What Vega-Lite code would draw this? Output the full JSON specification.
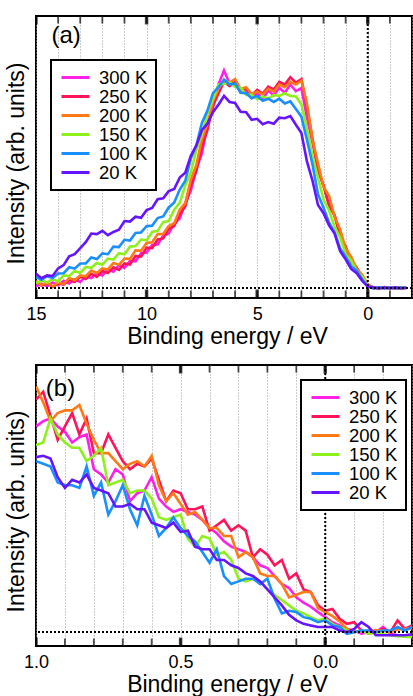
{
"$schema": "https://vega.github.io/schema/vega-lite/v6.json",
"padding": {"left": 4, "top": 14, "right": 0, "bottom": 0},
"bounds": "flush",
"spacing": 67,
"config": {
 "font": "Liberation Sans",
 "view": {"stroke": "black", "strokeWidth": 2},
 "axis": {"labelColor": "black", "titleColor": "black", "titleFontWeight": "normal", "labelFontSize": 18, "titleFontSize": 23, "domain": false, "tickColor": "black", "labelFont": "Liberation Sans", "titleFont": "Liberation Sans"},
 "legend": {"labelFont": "Liberation Sans", "strokeWidth": 2}
},
"resolve": {"scale": {"color": "independent"}, "legend": {"color": "independent"}},
"datasets": {
"ta": [{"v":15},{"v":14},{"v":13},{"v":12},{"v":11},{"v":10},{"v":9},{"v":8},{"v":7},{"v":6},{"v":5},{"v":4},{"v":3},{"v":2},{"v":1},{"v":0},{"v":-1}],
"tam": [{"v":15},{"v":10},{"v":5},{"v":0}],
"tb": [{"v":1},{"v":0.9},{"v":0.8},{"v":0.7},{"v":0.6},{"v":0.5},{"v":0.4},{"v":0.3},{"v":0.2},{"v":0.1},{"v":0},{"v":-0.1},{"v":-0.2}],
"tbm": [{"v":1},{"v":0.5},{"v":0}],
"a": [
{"s":"300 K","x":15,"y":0.006},{"s":"300 K","x":14.75,"y":0.016},{"s":"300 K","x":14.5,"y":0.006},{"s":"300 K","x":14.25,"y":0.02},{"s":"300 K","x":14,"y":0.01},{"s":"300 K","x":13.75,"y":0.026},{"s":"300 K","x":13.5,"y":0.016},{"s":"300 K","x":13.25,"y":0.032},{"s":"300 K","x":13,"y":0.022},{"s":"300 K","x":12.75,"y":0.042},
{"s":"300 K","x":12.5,"y":0.036},{"s":"300 K","x":12.25,"y":0.055},{"s":"300 K","x":12,"y":0.046},{"s":"300 K","x":11.75,"y":0.068},{"s":"300 K","x":11.5,"y":0.06},{"s":"300 K","x":11.25,"y":0.083},{"s":"300 K","x":11,"y":0.074},{"s":"300 K","x":10.75,"y":0.1},{"s":"300 K","x":10.5,"y":0.098},{"s":"300 K","x":10.25,"y":0.128},
{"s":"300 K","x":10,"y":0.13},{"s":"300 K","x":9.75,"y":0.158},{"s":"300 K","x":9.5,"y":0.16},{"s":"300 K","x":9.25,"y":0.192},{"s":"300 K","x":9,"y":0.2},{"s":"300 K","x":8.75,"y":0.238},{"s":"300 K","x":8.5,"y":0.255},{"s":"300 K","x":8.25,"y":0.312},{"s":"300 K","x":8,"y":0.358},{"s":"300 K","x":7.75,"y":0.438},
{"s":"300 K","x":7.5,"y":0.495},{"s":"300 K","x":7.25,"y":0.598},{"s":"300 K","x":7,"y":0.662},{"s":"300 K","x":6.75,"y":0.748},{"s":"300 K","x":6.5,"y":0.8},{"s":"300 K","x":6.25,"y":0.752},{"s":"300 K","x":6,"y":0.758},{"s":"300 K","x":5.75,"y":0.718},{"s":"300 K","x":5.5,"y":0.726},{"s":"300 K","x":5.25,"y":0.698},
{"s":"300 K","x":5,"y":0.716},{"s":"300 K","x":4.75,"y":0.694},{"s":"300 K","x":4.5,"y":0.726},{"s":"300 K","x":4.25,"y":0.708},{"s":"300 K","x":4,"y":0.736},{"s":"300 K","x":3.75,"y":0.718},{"s":"300 K","x":3.5,"y":0.748},{"s":"300 K","x":3.25,"y":0.724},{"s":"300 K","x":3,"y":0.735},{"s":"300 K","x":2.75,"y":0.625},
{"s":"300 K","x":2.5,"y":0.535},{"s":"300 K","x":2.25,"y":0.435},{"s":"300 K","x":2,"y":0.375},{"s":"300 K","x":1.75,"y":0.305},{"s":"300 K","x":1.5,"y":0.265},{"s":"300 K","x":1.25,"y":0.195},{"s":"300 K","x":1,"y":0.145},{"s":"300 K","x":0.75,"y":0.096},{"s":"300 K","x":0.5,"y":0.072},{"s":"300 K","x":0.25,"y":0.036},
{"s":"300 K","x":0,"y":0.01},{"s":"300 K","x":-0.25,"y":-0.002},{"s":"300 K","x":-0.5,"y":0.003},{"s":"300 K","x":-0.75,"y":-0.002},{"s":"300 K","x":-1,"y":0.002},{"s":"300 K","x":-1.25,"y":-0.003},{"s":"300 K","x":-1.5,"y":0.002},{"s":"300 K","x":-1.75,"y":0},

{"s":"250 K","x":15,"y":0.025},{"s":"250 K","x":14.75,"y":0.008},{"s":"250 K","x":14.5,"y":0.018},{"s":"250 K","x":14.25,"y":0.004},{"s":"250 K","x":14,"y":0.016},{"s":"250 K","x":13.75,"y":0.012},{"s":"250 K","x":13.5,"y":0.03},{"s":"250 K","x":13.25,"y":0.022},{"s":"250 K","x":13,"y":0.042},{"s":"250 K","x":12.75,"y":0.033},
{"s":"250 K","x":12.5,"y":0.052},{"s":"250 K","x":12.25,"y":0.041},{"s":"250 K","x":12,"y":0.062},{"s":"250 K","x":11.75,"y":0.055},{"s":"250 K","x":11.5,"y":0.076},{"s":"250 K","x":11.25,"y":0.066},{"s":"250 K","x":11,"y":0.09},{"s":"250 K","x":10.75,"y":0.086},{"s":"250 K","x":10.5,"y":0.118},{"s":"250 K","x":10.25,"y":0.115},
{"s":"250 K","x":10,"y":0.148},{"s":"250 K","x":9.75,"y":0.146},{"s":"250 K","x":9.5,"y":0.178},{"s":"250 K","x":9.25,"y":0.182},{"s":"250 K","x":9,"y":0.218},{"s":"250 K","x":8.75,"y":0.228},{"s":"250 K","x":8.5,"y":0.272},{"s":"250 K","x":8.25,"y":0.3},{"s":"250 K","x":8,"y":0.378},{"s":"250 K","x":7.75,"y":0.43},
{"s":"250 K","x":7.5,"y":0.52},{"s":"250 K","x":7.25,"y":0.58},{"s":"250 K","x":7,"y":0.67},{"s":"250 K","x":6.75,"y":0.715},{"s":"250 K","x":6.5,"y":0.758},{"s":"250 K","x":6.25,"y":0.742},{"s":"250 K","x":6,"y":0.758},{"s":"250 K","x":5.75,"y":0.726},{"s":"250 K","x":5.5,"y":0.734},{"s":"250 K","x":5.25,"y":0.71},
{"s":"250 K","x":5,"y":0.728},{"s":"250 K","x":4.75,"y":0.715},{"s":"250 K","x":4.5,"y":0.74},{"s":"250 K","x":4.25,"y":0.73},{"s":"250 K","x":4,"y":0.758},{"s":"250 K","x":3.75,"y":0.748},{"s":"250 K","x":3.5,"y":0.775},{"s":"250 K","x":3.25,"y":0.755},{"s":"250 K","x":3,"y":0.768},{"s":"250 K","x":2.75,"y":0.665},
{"s":"250 K","x":2.5,"y":0.55},{"s":"250 K","x":2.25,"y":0.432},{"s":"250 K","x":2,"y":0.378},{"s":"250 K","x":1.75,"y":0.302},{"s":"250 K","x":1.5,"y":0.268},{"s":"250 K","x":1.25,"y":0.192},{"s":"250 K","x":1,"y":0.152},{"s":"250 K","x":0.75,"y":0.098},{"s":"250 K","x":0.5,"y":0.075},{"s":"250 K","x":0.25,"y":0.036},
{"s":"250 K","x":0,"y":0.012},{"s":"250 K","x":-0.25,"y":0.002},{"s":"250 K","x":-0.5,"y":-0.003},{"s":"250 K","x":-0.75,"y":0.003},{"s":"250 K","x":-1,"y":-0.002},{"s":"250 K","x":-1.25,"y":0.002},{"s":"250 K","x":-1.5,"y":-0.002},{"s":"250 K","x":-1.75,"y":0.001},

{"s":"200 K","x":15,"y":0.024},{"s":"200 K","x":14.75,"y":0.01},{"s":"200 K","x":14.5,"y":0.02},{"s":"200 K","x":14.25,"y":0.004},{"s":"200 K","x":14,"y":0.02},{"s":"200 K","x":13.75,"y":0.014},{"s":"200 K","x":13.5,"y":0.036},{"s":"200 K","x":13.25,"y":0.028},{"s":"200 K","x":13,"y":0.046},{"s":"200 K","x":12.75,"y":0.043},
{"s":"200 K","x":12.5,"y":0.064},{"s":"200 K","x":12.25,"y":0.055},{"s":"200 K","x":12,"y":0.072},{"s":"200 K","x":11.75,"y":0.068},{"s":"200 K","x":11.5,"y":0.092},{"s":"200 K","x":11.25,"y":0.085},{"s":"200 K","x":11,"y":0.108},{"s":"200 K","x":10.75,"y":0.107},{"s":"200 K","x":10.5,"y":0.138},{"s":"200 K","x":10.25,"y":0.137},
{"s":"200 K","x":10,"y":0.165},{"s":"200 K","x":9.75,"y":0.168},{"s":"200 K","x":9.5,"y":0.198},{"s":"200 K","x":9.25,"y":0.198},{"s":"200 K","x":9,"y":0.228},{"s":"200 K","x":8.75,"y":0.238},{"s":"200 K","x":8.5,"y":0.288},{"s":"200 K","x":8.25,"y":0.312},{"s":"200 K","x":8,"y":0.398},{"s":"200 K","x":7.75,"y":0.452},
{"s":"200 K","x":7.5,"y":0.548},{"s":"200 K","x":7.25,"y":0.602},{"s":"200 K","x":7,"y":0.688},{"s":"200 K","x":6.75,"y":0.732},{"s":"200 K","x":6.5,"y":0.765},{"s":"200 K","x":6.25,"y":0.755},{"s":"200 K","x":6,"y":0.768},{"s":"200 K","x":5.75,"y":0.732},{"s":"200 K","x":5.5,"y":0.738},{"s":"200 K","x":5.25,"y":0.712},
{"s":"200 K","x":5,"y":0.722},{"s":"200 K","x":4.75,"y":0.712},{"s":"200 K","x":4.5,"y":0.732},{"s":"200 K","x":4.25,"y":0.722},{"s":"200 K","x":4,"y":0.748},{"s":"200 K","x":3.75,"y":0.738},{"s":"200 K","x":3.5,"y":0.758},{"s":"200 K","x":3.25,"y":0.748},{"s":"200 K","x":3,"y":0.762},{"s":"200 K","x":2.75,"y":0.678},
{"s":"200 K","x":2.5,"y":0.545},{"s":"200 K","x":2.25,"y":0.458},{"s":"200 K","x":2,"y":0.372},{"s":"200 K","x":1.75,"y":0.338},{"s":"200 K","x":1.5,"y":0.262},{"s":"200 K","x":1.25,"y":0.215},{"s":"200 K","x":1,"y":0.145},{"s":"200 K","x":0.75,"y":0.114},{"s":"200 K","x":0.5,"y":0.07},{"s":"200 K","x":0.25,"y":0.048},
{"s":"200 K","x":0,"y":0.012},{"s":"200 K","x":-0.25,"y":0.001},{"s":"200 K","x":-0.5,"y":-0.002},{"s":"200 K","x":-0.75,"y":0.002},{"s":"200 K","x":-1,"y":0},{"s":"200 K","x":-1.25,"y":-0.002},{"s":"200 K","x":-1.5,"y":0.002},{"s":"200 K","x":-1.75,"y":0},

{"s":"150 K","x":15,"y":0.018},{"s":"150 K","x":14.75,"y":0.028},{"s":"150 K","x":14.5,"y":0.02},{"s":"150 K","x":14.25,"y":0.032},{"s":"150 K","x":14,"y":0.024},{"s":"150 K","x":13.75,"y":0.046},{"s":"150 K","x":13.5,"y":0.044},{"s":"150 K","x":13.25,"y":0.062},{"s":"150 K","x":13,"y":0.055},{"s":"150 K","x":12.75,"y":0.077},
{"s":"150 K","x":12.5,"y":0.074},{"s":"150 K","x":12.25,"y":0.092},{"s":"150 K","x":12,"y":0.085},{"s":"150 K","x":11.75,"y":0.108},{"s":"150 K","x":11.5,"y":0.104},{"s":"150 K","x":11.25,"y":0.128},{"s":"150 K","x":11,"y":0.124},{"s":"150 K","x":10.75,"y":0.152},{"s":"150 K","x":10.5,"y":0.154},{"s":"150 K","x":10.25,"y":0.178},
{"s":"150 K","x":10,"y":0.175},{"s":"150 K","x":9.75,"y":0.206},{"s":"150 K","x":9.5,"y":0.21},{"s":"150 K","x":9.25,"y":0.242},{"s":"150 K","x":9,"y":0.246},{"s":"150 K","x":8.75,"y":0.288},{"s":"150 K","x":8.5,"y":0.314},{"s":"150 K","x":8.25,"y":0.378},{"s":"150 K","x":8,"y":0.424},{"s":"150 K","x":7.75,"y":0.508},
{"s":"150 K","x":7.5,"y":0.565},{"s":"150 K","x":7.25,"y":0.642},{"s":"150 K","x":7,"y":0.695},{"s":"150 K","x":6.75,"y":0.748},{"s":"150 K","x":6.5,"y":0.75},{"s":"150 K","x":6.25,"y":0.756},{"s":"150 K","x":6,"y":0.74},{"s":"150 K","x":5.75,"y":0.736},{"s":"150 K","x":5.5,"y":0.71},{"s":"150 K","x":5.25,"y":0.71},
{"s":"150 K","x":5,"y":0.694},{"s":"150 K","x":4.75,"y":0.704},{"s":"150 K","x":4.5,"y":0.696},{"s":"150 K","x":4.25,"y":0.71},{"s":"150 K","x":4,"y":0.706},{"s":"150 K","x":3.75,"y":0.716},{"s":"150 K","x":3.5,"y":0.706},{"s":"150 K","x":3.25,"y":0.704},{"s":"150 K","x":3,"y":0.675},{"s":"150 K","x":2.75,"y":0.585},
{"s":"150 K","x":2.5,"y":0.485},{"s":"150 K","x":2.25,"y":0.405},{"s":"150 K","x":2,"y":0.325},{"s":"150 K","x":1.75,"y":0.285},{"s":"150 K","x":1.5,"y":0.225},{"s":"150 K","x":1.25,"y":0.185},{"s":"150 K","x":1,"y":0.125},{"s":"150 K","x":0.75,"y":0.1},{"s":"150 K","x":0.5,"y":0.06},{"s":"150 K","x":0.25,"y":0.043},
{"s":"150 K","x":0,"y":0.007},{"s":"150 K","x":-0.25,"y":0.002},{"s":"150 K","x":-0.5,"y":-0.002},{"s":"150 K","x":-0.75,"y":0.002},{"s":"150 K","x":-1,"y":-0.001},{"s":"150 K","x":-1.25,"y":0.002},{"s":"150 K","x":-1.5,"y":-0.002},{"s":"150 K","x":-1.75,"y":0},

{"s":"100 K","x":15,"y":0.04},{"s":"100 K","x":14.75,"y":0.03},{"s":"100 K","x":14.5,"y":0.043},{"s":"100 K","x":14.25,"y":0.036},{"s":"100 K","x":14,"y":0.053},{"s":"100 K","x":13.75,"y":0.054},{"s":"100 K","x":13.5,"y":0.076},{"s":"100 K","x":13.25,"y":0.071},{"s":"100 K","x":13,"y":0.09},{"s":"100 K","x":12.75,"y":0.09},
{"s":"100 K","x":12.5,"y":0.112},{"s":"100 K","x":12.25,"y":0.106},{"s":"100 K","x":12,"y":0.127},{"s":"100 K","x":11.75,"y":0.124},{"s":"100 K","x":11.5,"y":0.152},{"s":"100 K","x":11.25,"y":0.15},{"s":"100 K","x":11,"y":0.177},{"s":"100 K","x":10.75,"y":0.174},{"s":"100 K","x":10.5,"y":0.202},{"s":"100 K","x":10.25,"y":0.204},
{"s":"100 K","x":10,"y":0.227},{"s":"100 K","x":9.75,"y":0.229},{"s":"100 K","x":9.5,"y":0.257},{"s":"100 K","x":9.25,"y":0.263},{"s":"100 K","x":9,"y":0.296},{"s":"100 K","x":8.75,"y":0.314},{"s":"100 K","x":8.5,"y":0.362},{"s":"100 K","x":8.25,"y":0.394},{"s":"100 K","x":8,"y":0.476},{"s":"100 K","x":7.75,"y":0.524},
{"s":"100 K","x":7.5,"y":0.607},{"s":"100 K","x":7.25,"y":0.652},{"s":"100 K","x":7,"y":0.716},{"s":"100 K","x":6.75,"y":0.738},{"s":"100 K","x":6.5,"y":0.766},{"s":"100 K","x":6.25,"y":0.748},{"s":"100 K","x":6,"y":0.752},{"s":"100 K","x":5.75,"y":0.718},{"s":"100 K","x":5.5,"y":0.716},{"s":"100 K","x":5.25,"y":0.698},
{"s":"100 K","x":5,"y":0.706},{"s":"100 K","x":4.75,"y":0.688},{"s":"100 K","x":4.5,"y":0.696},{"s":"100 K","x":4.25,"y":0.684},{"s":"100 K","x":4,"y":0.696},{"s":"100 K","x":3.75,"y":0.678},{"s":"100 K","x":3.5,"y":0.686},{"s":"100 K","x":3.25,"y":0.658},{"s":"100 K","x":3,"y":0.63},{"s":"100 K","x":2.75,"y":0.545},
{"s":"100 K","x":2.5,"y":0.455},{"s":"100 K","x":2.25,"y":0.345},{"s":"100 K","x":2,"y":0.295},{"s":"100 K","x":1.75,"y":0.24},{"s":"100 K","x":1.5,"y":0.205},{"s":"100 K","x":1.25,"y":0.145},{"s":"100 K","x":1,"y":0.115},{"s":"100 K","x":0.75,"y":0.08},{"s":"100 K","x":0.5,"y":0.064},{"s":"100 K","x":0.25,"y":0.031},
{"s":"100 K","x":0,"y":0.006},{"s":"100 K","x":-0.25,"y":-0.002},{"s":"100 K","x":-0.5,"y":0.002},{"s":"100 K","x":-0.75,"y":-0.002},{"s":"100 K","x":-1,"y":0.001},{"s":"100 K","x":-1.25,"y":-0.002},{"s":"100 K","x":-1.5,"y":0.002},{"s":"100 K","x":-1.75,"y":0},

{"s":"20 K","x":15,"y":0.052},{"s":"20 K","x":14.75,"y":0.036},{"s":"20 K","x":14.5,"y":0.046},{"s":"20 K","x":14.25,"y":0.044},{"s":"20 K","x":14,"y":0.072},{"s":"20 K","x":13.75,"y":0.084},{"s":"20 K","x":13.5,"y":0.116},{"s":"20 K","x":13.25,"y":0.124},{"s":"20 K","x":13,"y":0.146},{"s":"20 K","x":12.75,"y":0.168},
{"s":"20 K","x":12.5,"y":0.2},{"s":"20 K","x":12.25,"y":0.198},{"s":"20 K","x":12,"y":0.21},{"s":"20 K","x":11.75,"y":0.194},{"s":"20 K","x":11.5,"y":0.206},{"s":"20 K","x":11.25,"y":0.214},{"s":"20 K","x":11,"y":0.246},{"s":"20 K","x":10.75,"y":0.244},{"s":"20 K","x":10.5,"y":0.262},{"s":"20 K","x":10.25,"y":0.258},
{"s":"20 K","x":10,"y":0.286},{"s":"20 K","x":9.75,"y":0.294},{"s":"20 K","x":9.5,"y":0.326},{"s":"20 K","x":9.25,"y":0.33},{"s":"20 K","x":9,"y":0.356},{"s":"20 K","x":8.75,"y":0.364},{"s":"20 K","x":8.5,"y":0.406},{"s":"20 K","x":8.25,"y":0.424},{"s":"20 K","x":8,"y":0.486},{"s":"20 K","x":7.75,"y":0.524},
{"s":"20 K","x":7.5,"y":0.58},{"s":"20 K","x":7.25,"y":0.604},{"s":"20 K","x":7,"y":0.646},{"s":"20 K","x":6.75,"y":0.674},{"s":"20 K","x":6.5,"y":0.706},{"s":"20 K","x":6.25,"y":0.684},{"s":"20 K","x":6,"y":0.68},{"s":"20 K","x":5.75,"y":0.648},{"s":"20 K","x":5.5,"y":0.646},{"s":"20 K","x":5.25,"y":0.618},
{"s":"20 K","x":5,"y":0.622},{"s":"20 K","x":4.75,"y":0.602},{"s":"20 K","x":4.5,"y":0.61},{"s":"20 K","x":4.25,"y":0.604},{"s":"20 K","x":4,"y":0.626},{"s":"20 K","x":3.75,"y":0.624},{"s":"20 K","x":3.5,"y":0.632},{"s":"20 K","x":3.25,"y":0.6},{"s":"20 K","x":3,"y":0.57},{"s":"20 K","x":2.75,"y":0.465},
{"s":"20 K","x":2.5,"y":0.395},{"s":"20 K","x":2.25,"y":0.305},{"s":"20 K","x":2,"y":0.275},{"s":"20 K","x":1.75,"y":0.23},{"s":"20 K","x":1.5,"y":0.2},{"s":"20 K","x":1.25,"y":0.135},{"s":"20 K","x":1,"y":0.105},{"s":"20 K","x":0.75,"y":0.07},{"s":"20 K","x":0.5,"y":0.054},{"s":"20 K","x":0.25,"y":0.026},
{"s":"20 K","x":0,"y":0.005},{"s":"20 K","x":-0.25,"y":0.002},{"s":"20 K","x":-0.5,"y":-0.002},{"s":"20 K","x":-0.75,"y":0.002},{"s":"20 K","x":-1,"y":-0.001},{"s":"20 K","x":-1.25,"y":0.002},{"s":"20 K","x":-1.5,"y":-0.002},{"s":"20 K","x":-1.75,"y":0.001}
],
"b": [
{"s":"300 K","x":1,"y":0.77},{"s":"300 K","x":0.975,"y":0.79},{"s":"300 K","x":0.95,"y":0.8},{"s":"300 K","x":0.925,"y":0.77},{"s":"300 K","x":0.9,"y":0.75},{"s":"300 K","x":0.875,"y":0.71},{"s":"300 K","x":0.85,"y":0.73},{"s":"300 K","x":0.825,"y":0.74},{"s":"300 K","x":0.8,"y":0.61},{"s":"300 K","x":0.775,"y":0.59},
{"s":"300 K","x":0.75,"y":0.56},{"s":"300 K","x":0.725,"y":0.61},{"s":"300 K","x":0.7,"y":0.59},{"s":"300 K","x":0.675,"y":0.49},{"s":"300 K","x":0.65,"y":0.52},{"s":"300 K","x":0.625,"y":0.53},{"s":"300 K","x":0.6,"y":0.58},{"s":"300 K","x":0.575,"y":0.5},{"s":"300 K","x":0.55,"y":0.47},{"s":"300 K","x":0.525,"y":0.45},
{"s":"300 K","x":0.5,"y":0.46},{"s":"300 K","x":0.475,"y":0.45},{"s":"300 K","x":0.45,"y":0.44},{"s":"300 K","x":0.425,"y":0.42},{"s":"300 K","x":0.4,"y":0.39},{"s":"300 K","x":0.375,"y":0.37},{"s":"300 K","x":0.35,"y":0.34},{"s":"300 K","x":0.325,"y":0.32},{"s":"300 K","x":0.3,"y":0.31},{"s":"300 K","x":0.275,"y":0.3},
{"s":"300 K","x":0.25,"y":0.28},{"s":"300 K","x":0.225,"y":0.25},{"s":"300 K","x":0.2,"y":0.24},{"s":"300 K","x":0.175,"y":0.21},{"s":"300 K","x":0.15,"y":0.18},{"s":"300 K","x":0.125,"y":0.165},{"s":"300 K","x":0.1,"y":0.13},{"s":"300 K","x":0.075,"y":0.11},{"s":"300 K","x":0.05,"y":0.095},{"s":"300 K","x":0.025,"y":0.075},
{"s":"300 K","x":0,"y":0.056},{"s":"300 K","x":-0.025,"y":0.037},{"s":"300 K","x":-0.05,"y":0.025},{"s":"300 K","x":-0.075,"y":0.012},{"s":"300 K","x":-0.1,"y":0.006},{"s":"300 K","x":-0.125,"y":-0.006},{"s":"300 K","x":-0.15,"y":0},{"s":"300 K","x":-0.175,"y":0},{"s":"300 K","x":-0.2,"y":0.019},{"s":"300 K","x":-0.225,"y":-0.006},
{"s":"300 K","x":-0.25,"y":-0.012},{"s":"300 K","x":-0.275,"y":-0.012},{"s":"300 K","x":-0.3,"y":-0.012},

{"s":"250 K","x":1,"y":0.87},{"s":"250 K","x":0.975,"y":0.9},{"s":"250 K","x":0.95,"y":0.81},{"s":"250 K","x":0.925,"y":0.72},{"s":"250 K","x":0.9,"y":0.77},{"s":"250 K","x":0.875,"y":0.82},{"s":"250 K","x":0.85,"y":0.74},{"s":"250 K","x":0.825,"y":0.8},{"s":"250 K","x":0.8,"y":0.67},{"s":"250 K","x":0.775,"y":0.67},
{"s":"250 K","x":0.75,"y":0.74},{"s":"250 K","x":0.725,"y":0.69},{"s":"250 K","x":0.7,"y":0.64},{"s":"250 K","x":0.675,"y":0.61},{"s":"250 K","x":0.65,"y":0.63},{"s":"250 K","x":0.625,"y":0.62},{"s":"250 K","x":0.6,"y":0.65},{"s":"250 K","x":0.575,"y":0.57},{"s":"250 K","x":0.55,"y":0.49},{"s":"250 K","x":0.525,"y":0.53},
{"s":"250 K","x":0.5,"y":0.52},{"s":"250 K","x":0.475,"y":0.46},{"s":"250 K","x":0.45,"y":0.46},{"s":"250 K","x":0.425,"y":0.47},{"s":"250 K","x":0.4,"y":0.38},{"s":"250 K","x":0.375,"y":0.4},{"s":"250 K","x":0.35,"y":0.42},{"s":"250 K","x":0.325,"y":0.38},{"s":"250 K","x":0.3,"y":0.4},{"s":"250 K","x":0.275,"y":0.38},
{"s":"250 K","x":0.25,"y":0.28},{"s":"250 K","x":0.225,"y":0.31},{"s":"250 K","x":0.2,"y":0.29},{"s":"250 K","x":0.175,"y":0.25},{"s":"250 K","x":0.15,"y":0.27},{"s":"250 K","x":0.125,"y":0.2},{"s":"250 K","x":0.1,"y":0.22},{"s":"250 K","x":0.075,"y":0.16},{"s":"250 K","x":0.05,"y":0.15},{"s":"250 K","x":0.025,"y":0.1},
{"s":"250 K","x":0,"y":0.08},{"s":"250 K","x":-0.025,"y":0.087},{"s":"250 K","x":-0.05,"y":0.05},{"s":"250 K","x":-0.075,"y":0.031},{"s":"250 K","x":-0.1,"y":0.037},{"s":"250 K","x":-0.125,"y":0.006},{"s":"250 K","x":-0.15,"y":-0.006},{"s":"250 K","x":-0.175,"y":0},{"s":"250 K","x":-0.2,"y":0.012},{"s":"250 K","x":-0.225,"y":0},
{"s":"250 K","x":-0.25,"y":0.044},{"s":"250 K","x":-0.275,"y":0.012},{"s":"250 K","x":-0.3,"y":0.025},

{"s":"200 K","x":1,"y":0.92},{"s":"200 K","x":0.975,"y":0.86},{"s":"200 K","x":0.95,"y":0.79},{"s":"200 K","x":0.925,"y":0.82},{"s":"200 K","x":0.9,"y":0.83},{"s":"200 K","x":0.875,"y":0.83},{"s":"200 K","x":0.85,"y":0.85},{"s":"200 K","x":0.825,"y":0.78},{"s":"200 K","x":0.8,"y":0.72},{"s":"200 K","x":0.775,"y":0.67},
{"s":"200 K","x":0.75,"y":0.67},{"s":"200 K","x":0.725,"y":0.64},{"s":"200 K","x":0.7,"y":0.61},{"s":"200 K","x":0.675,"y":0.63},{"s":"200 K","x":0.65,"y":0.64},{"s":"200 K","x":0.625,"y":0.62},{"s":"200 K","x":0.6,"y":0.66},{"s":"200 K","x":0.575,"y":0.55},{"s":"200 K","x":0.55,"y":0.49},{"s":"200 K","x":0.525,"y":0.52},
{"s":"200 K","x":0.5,"y":0.48},{"s":"200 K","x":0.475,"y":0.44},{"s":"200 K","x":0.45,"y":0.45},{"s":"200 K","x":0.425,"y":0.42},{"s":"200 K","x":0.4,"y":0.39},{"s":"200 K","x":0.375,"y":0.39},{"s":"200 K","x":0.35,"y":0.36},{"s":"200 K","x":0.325,"y":0.36},{"s":"200 K","x":0.3,"y":0.28},{"s":"200 K","x":0.275,"y":0.3},
{"s":"200 K","x":0.25,"y":0.28},{"s":"200 K","x":0.225,"y":0.22},{"s":"200 K","x":0.2,"y":0.21},{"s":"200 K","x":0.175,"y":0.21},{"s":"200 K","x":0.15,"y":0.18},{"s":"200 K","x":0.125,"y":0.13},{"s":"200 K","x":0.1,"y":0.14},{"s":"200 K","x":0.075,"y":0.15},{"s":"200 K","x":0.05,"y":0.15},{"s":"200 K","x":0.025,"y":0.09},
{"s":"200 K","x":0,"y":0.075},{"s":"200 K","x":-0.025,"y":0.06},{"s":"200 K","x":-0.05,"y":0.04},{"s":"200 K","x":-0.075,"y":0.012},{"s":"200 K","x":-0.1,"y":0},{"s":"200 K","x":-0.125,"y":0.005},{"s":"200 K","x":-0.15,"y":0},{"s":"200 K","x":-0.175,"y":0.008},{"s":"200 K","x":-0.2,"y":0.005},{"s":"200 K","x":-0.225,"y":0},
{"s":"200 K","x":-0.25,"y":0.01},{"s":"200 K","x":-0.275,"y":0.012},{"s":"200 K","x":-0.3,"y":0.015},

{"s":"150 K","x":1,"y":0.7},{"s":"150 K","x":0.975,"y":0.71},{"s":"150 K","x":0.95,"y":0.8},{"s":"150 K","x":0.925,"y":0.74},{"s":"150 K","x":0.9,"y":0.71},{"s":"150 K","x":0.875,"y":0.69},{"s":"150 K","x":0.85,"y":0.69},{"s":"150 K","x":0.825,"y":0.64},{"s":"150 K","x":0.8,"y":0.66},{"s":"150 K","x":0.775,"y":0.69},
{"s":"150 K","x":0.75,"y":0.55},{"s":"150 K","x":0.725,"y":0.56},{"s":"150 K","x":0.7,"y":0.57},{"s":"150 K","x":0.675,"y":0.52},{"s":"150 K","x":0.65,"y":0.53},{"s":"150 K","x":0.625,"y":0.53},{"s":"150 K","x":0.6,"y":0.5},{"s":"150 K","x":0.575,"y":0.43},{"s":"150 K","x":0.55,"y":0.42},{"s":"150 K","x":0.525,"y":0.43},
{"s":"150 K","x":0.5,"y":0.44},{"s":"150 K","x":0.475,"y":0.35},{"s":"150 K","x":0.45,"y":0.32},{"s":"150 K","x":0.425,"y":0.36},{"s":"150 K","x":0.4,"y":0.35},{"s":"150 K","x":0.375,"y":0.29},{"s":"150 K","x":0.35,"y":0.3},{"s":"150 K","x":0.325,"y":0.27},{"s":"150 K","x":0.3,"y":0.2},{"s":"150 K","x":0.275,"y":0.19},
{"s":"150 K","x":0.25,"y":0.2},{"s":"150 K","x":0.225,"y":0.19},{"s":"150 K","x":0.2,"y":0.16},{"s":"150 K","x":0.175,"y":0.14},{"s":"150 K","x":0.15,"y":0.12},{"s":"150 K","x":0.125,"y":0.1},{"s":"150 K","x":0.1,"y":0.08},{"s":"150 K","x":0.075,"y":0.07},{"s":"150 K","x":0.05,"y":0.056},{"s":"150 K","x":0.025,"y":0.044},
{"s":"150 K","x":0,"y":0.05},{"s":"150 K","x":-0.025,"y":0.03},{"s":"150 K","x":-0.05,"y":0.019},{"s":"150 K","x":-0.075,"y":0.006},{"s":"150 K","x":-0.1,"y":0},{"s":"150 K","x":-0.125,"y":0.004},{"s":"150 K","x":-0.15,"y":-0.006},{"s":"150 K","x":-0.175,"y":0},{"s":"150 K","x":-0.2,"y":-0.008},{"s":"150 K","x":-0.225,"y":-0.012},
{"s":"150 K","x":-0.25,"y":-0.015},{"s":"150 K","x":-0.275,"y":-0.017},{"s":"150 K","x":-0.3,"y":-0.019},

{"s":"100 K","x":1,"y":0.64},{"s":"100 K","x":0.975,"y":0.63},{"s":"100 K","x":0.95,"y":0.62},{"s":"100 K","x":0.925,"y":0.56},{"s":"100 K","x":0.9,"y":0.55},{"s":"100 K","x":0.875,"y":0.55},{"s":"100 K","x":0.85,"y":0.54},{"s":"100 K","x":0.825,"y":0.62},{"s":"100 K","x":0.8,"y":0.51},{"s":"100 K","x":0.775,"y":0.56},
{"s":"100 K","x":0.75,"y":0.44},{"s":"100 K","x":0.725,"y":0.49},{"s":"100 K","x":0.7,"y":0.55},{"s":"100 K","x":0.675,"y":0.46},{"s":"100 K","x":0.65,"y":0.4},{"s":"100 K","x":0.625,"y":0.51},{"s":"100 K","x":0.6,"y":0.44},{"s":"100 K","x":0.575,"y":0.36},{"s":"100 K","x":0.55,"y":0.39},{"s":"100 K","x":0.525,"y":0.43},
{"s":"100 K","x":0.5,"y":0.39},{"s":"100 K","x":0.475,"y":0.36},{"s":"100 K","x":0.45,"y":0.34},{"s":"100 K","x":0.425,"y":0.3},{"s":"100 K","x":0.4,"y":0.26},{"s":"100 K","x":0.375,"y":0.31},{"s":"100 K","x":0.35,"y":0.21},{"s":"100 K","x":0.325,"y":0.18},{"s":"100 K","x":0.3,"y":0.19},{"s":"100 K","x":0.275,"y":0.2},
{"s":"100 K","x":0.25,"y":0.2},{"s":"100 K","x":0.225,"y":0.18},{"s":"100 K","x":0.2,"y":0.2},{"s":"100 K","x":0.175,"y":0.125},{"s":"100 K","x":0.15,"y":0.07},{"s":"100 K","x":0.125,"y":0.08},{"s":"100 K","x":0.1,"y":0.075},{"s":"100 K","x":0.075,"y":0.056},{"s":"100 K","x":0.05,"y":0.05},{"s":"100 K","x":0.025,"y":0.037},
{"s":"100 K","x":0,"y":0.044},{"s":"100 K","x":-0.025,"y":0.025},{"s":"100 K","x":-0.05,"y":0.019},{"s":"100 K","x":-0.075,"y":-0.006},{"s":"100 K","x":-0.1,"y":0},{"s":"100 K","x":-0.125,"y":0.006},{"s":"100 K","x":-0.15,"y":0.006},{"s":"100 K","x":-0.175,"y":0},{"s":"100 K","x":-0.2,"y":0.006},{"s":"100 K","x":-0.225,"y":0.006},
{"s":"100 K","x":-0.25,"y":0.019},{"s":"100 K","x":-0.275,"y":0.006},{"s":"100 K","x":-0.3,"y":0.019},

{"s":"20 K","x":1,"y":0.655},{"s":"20 K","x":0.975,"y":0.66},{"s":"20 K","x":0.95,"y":0.65},{"s":"20 K","x":0.925,"y":0.58},{"s":"20 K","x":0.9,"y":0.54},{"s":"20 K","x":0.875,"y":0.57},{"s":"20 K","x":0.85,"y":0.56},{"s":"20 K","x":0.825,"y":0.59},{"s":"20 K","x":0.8,"y":0.54},{"s":"20 K","x":0.775,"y":0.53},
{"s":"20 K","x":0.75,"y":0.52},{"s":"20 K","x":0.725,"y":0.47},{"s":"20 K","x":0.7,"y":0.47},{"s":"20 K","x":0.675,"y":0.48},{"s":"20 K","x":0.65,"y":0.46},{"s":"20 K","x":0.625,"y":0.46},{"s":"20 K","x":0.6,"y":0.41},{"s":"20 K","x":0.575,"y":0.4},{"s":"20 K","x":0.55,"y":0.39},{"s":"20 K","x":0.525,"y":0.41},
{"s":"20 K","x":0.5,"y":0.375},{"s":"20 K","x":0.475,"y":0.38},{"s":"20 K","x":0.45,"y":0.32},{"s":"20 K","x":0.425,"y":0.31},{"s":"20 K","x":0.4,"y":0.31},{"s":"20 K","x":0.375,"y":0.27},{"s":"20 K","x":0.35,"y":0.27},{"s":"20 K","x":0.325,"y":0.25},{"s":"20 K","x":0.3,"y":0.24},{"s":"20 K","x":0.275,"y":0.22},
{"s":"20 K","x":0.25,"y":0.21},{"s":"20 K","x":0.225,"y":0.19},{"s":"20 K","x":0.2,"y":0.16},{"s":"20 K","x":0.175,"y":0.13},{"s":"20 K","x":0.15,"y":0.1},{"s":"20 K","x":0.125,"y":0.065},{"s":"20 K","x":0.1,"y":0.044},{"s":"20 K","x":0.075,"y":0.031},{"s":"20 K","x":0.05,"y":0.025},{"s":"20 K","x":0.025,"y":0.019},
{"s":"20 K","x":0,"y":0.019},{"s":"20 K","x":-0.025,"y":0.019},{"s":"20 K","x":-0.05,"y":0.006},{"s":"20 K","x":-0.075,"y":0},{"s":"20 K","x":-0.1,"y":0.012},{"s":"20 K","x":-0.125,"y":0.037},{"s":"20 K","x":-0.15,"y":0.019},{"s":"20 K","x":-0.175,"y":-0.012},{"s":"20 K","x":-0.2,"y":-0.012},{"s":"20 K","x":-0.225,"y":-0.012},
{"s":"20 K","x":-0.25,"y":-0.012},{"s":"20 K","x":-0.275,"y":-0.012},{"s":"20 K","x":-0.3,"y":-0.008}
]
},
"vconcat": [
{
 "width": 376, "height": 282,
 "resolve": {"axis": {"x": "independent"}},
 "layer": [
  {"data": {"name": "a"},
   "mark": {"type": "line", "strokeWidth": 2.6, "clip": true},
   "encoding": {
    "x": {"field": "x", "type": "quantitative", "scale": {"domain": [-2, 15], "reverse": true, "nice": false, "zero": false},
     "axis": {"orient": "bottom", "values": [15,14,13,12,11,10,9,8,7,6,5,4,3,2,1,0,-1,-2], "grid": true, "gridColor": "#9a9a9a", "gridDash": [1,2], "gridWidth": 1, "ticks": false, "tickSize": 0, "labelPadding": 7, "labelExpr": "datum.value % 5 === 0 ? datum.label : ''", "labelFlush": false, "labelOverlap": false, "title": "Binding energy / eV", "titlePadding": 2, "titleX": 191}},
    "y": {"field": "y", "type": "quantitative", "scale": {"domain": [-0.037, 1], "nice": false, "zero": false},
     "axis": {"title": "Intensity (arb. units)", "labels": false, "ticks": false, "grid": false, "titlePadding": 8, "titleY": 147}},
    "color": {"field": "s", "type": "nominal",
     "scale": {"domain": ["300 K","250 K","200 K","150 K","100 K","20 K"], "range": ["#ff1fe8","#ff1459","#ff7a14","#8ef01a","#1a8fff","#6614ff"]},
     "legend": {"title": null, "orient": "none", "legendX": 15, "legendY": 44, "strokeColor": "black", "fillColor": "white", "padding": 8, "symbolType": "M-1.75,0H1.75", "symbolSize": 256, "symbolStrokeWidth": 3, "symbolOffset": 7, "labelOffset": 14, "labelFontSize": 18.5, "labelColor": "black", "rowPadding": -0.7}}
   }},
  {"data": {"name": "ta"}, "mark": {"type": "tick", "orient": "vertical", "size": 15, "thickness": 1.8, "color": "black", "clip": true},
   "encoding": {"x": {"field": "v", "type": "quantitative", "axis": null}, "y": {"datum": -0.037, "type": "quantitative"}}},
  {"data": {"name": "ta"}, "mark": {"type": "tick", "orient": "vertical", "size": 15, "thickness": 1.8, "color": "black", "clip": true},
   "encoding": {"x": {"field": "v", "type": "quantitative", "axis": null}, "y": {"datum": 1, "type": "quantitative"}}},
  {"data": {"name": "tam"}, "mark": {"type": "tick", "orient": "vertical", "size": 17, "thickness": 3.5, "color": "black", "clip": true},
   "encoding": {"x": {"field": "v", "type": "quantitative", "axis": null}, "y": {"datum": -0.037, "type": "quantitative"}}},
  {"data": {"name": "tam"}, "mark": {"type": "tick", "orient": "vertical", "size": 17, "thickness": 3.5, "color": "black", "clip": true},
   "encoding": {"x": {"field": "v", "type": "quantitative", "axis": null}, "y": {"datum": 1, "type": "quantitative"}}},
  {"data": {"values": [{}]},
   "mark": {"type": "rule", "strokeDash": [2, 2], "strokeWidth": 2, "color": "black"},
   "encoding": {"x": {"datum": 0, "type": "quantitative", "axis": null}}},
  {"data": {"values": [{}]},
   "mark": {"type": "rule", "strokeDash": [2, 2], "strokeWidth": 2, "color": "black"},
   "encoding": {"y": {"datum": 0, "type": "quantitative"}}},
  {"data": {"values": [{"t": "(a)"}]},
   "mark": {"type": "text", "fontSize": 24, "align": "left", "baseline": "middle", "color": "black"},
   "encoding": {"x": {"datum": 14.3, "type": "quantitative", "axis": null}, "y": {"datum": 0.925, "type": "quantitative"}, "text": {"field": "t"}}}
 ]
},
{
 "width": 376, "height": 281,
 "resolve": {"axis": {"x": "independent"}},
 "layer": [
  {"data": {"name": "b"},
   "mark": {"type": "line", "strokeWidth": 2.6, "clip": true},
   "encoding": {
    "x": {"field": "x", "type": "quantitative", "scale": {"domain": [-0.3, 1], "reverse": true, "nice": false, "zero": false},
     "axis": {"orient": "bottom", "values": [1,0.9,0.8,0.7,0.6,0.5,0.4,0.3,0.2,0.1,0,-0.1,-0.2,-0.3], "grid": true, "gridColor": "#9a9a9a", "gridDash": [1,2], "gridWidth": 1, "ticks": false, "tickSize": 0, "labelPadding": 7, "labelExpr": "abs(round(datum.value*10) % 5) === 0 ? format(datum.value, '.1f') : ''", "labelFlush": false, "labelOverlap": false, "title": "Binding energy / eV", "titlePadding": 2, "titleX": 191}},
    "y": {"field": "y", "type": "quantitative", "scale": {"domain": [-0.052, 1], "nice": false, "zero": false},
     "axis": {"title": "Intensity (arb. units)", "labels": false, "ticks": false, "grid": false, "titlePadding": 8, "titleY": 146}},
    "color": {"field": "s", "type": "nominal",
     "scale": {"domain": ["300 K","250 K","200 K","150 K","100 K","20 K"], "range": ["#ff1fe8","#ff1459","#ff7a14","#8ef01a","#1a8fff","#6614ff"]},
     "legend": {"title": null, "orient": "none", "legendX": 265, "legendY": 15, "strokeColor": "black", "fillColor": "white", "padding": 8, "symbolType": "M-1.75,0H1.75", "symbolSize": 256, "symbolStrokeWidth": 3, "symbolOffset": 7, "labelOffset": 14, "labelFontSize": 18.5, "labelColor": "black", "rowPadding": -0.7}}
   }},
  {"data": {"name": "tb"}, "mark": {"type": "tick", "orient": "vertical", "size": 15, "thickness": 1.8, "color": "black", "clip": true},
   "encoding": {"x": {"field": "v", "type": "quantitative", "axis": null}, "y": {"datum": -0.052, "type": "quantitative"}}},
  {"data": {"name": "tb"}, "mark": {"type": "tick", "orient": "vertical", "size": 15, "thickness": 1.8, "color": "black", "clip": true},
   "encoding": {"x": {"field": "v", "type": "quantitative", "axis": null}, "y": {"datum": 1, "type": "quantitative"}}},
  {"data": {"name": "tbm"}, "mark": {"type": "tick", "orient": "vertical", "size": 17, "thickness": 3.5, "color": "black", "clip": true},
   "encoding": {"x": {"field": "v", "type": "quantitative", "axis": null}, "y": {"datum": -0.052, "type": "quantitative"}}},
  {"data": {"name": "tbm"}, "mark": {"type": "tick", "orient": "vertical", "size": 17, "thickness": 3.5, "color": "black", "clip": true},
   "encoding": {"x": {"field": "v", "type": "quantitative", "axis": null}, "y": {"datum": 1, "type": "quantitative"}}},
  {"data": {"values": [{}]},
   "mark": {"type": "rule", "strokeDash": [2, 2], "strokeWidth": 2, "color": "black"},
   "encoding": {"x": {"datum": 0, "type": "quantitative", "axis": null}}},
  {"data": {"values": [{}]},
   "mark": {"type": "rule", "strokeDash": [2, 2], "strokeWidth": 2, "color": "black"},
   "encoding": {"y": {"datum": 0, "type": "quantitative"}}},
  {"data": {"values": [{"t": "(b)"}]},
   "mark": {"type": "text", "fontSize": 24, "align": "left", "baseline": "middle", "color": "black"},
   "encoding": {"x": {"datum": 0.966, "type": "quantitative", "axis": null}, "y": {"datum": 0.91, "type": "quantitative"}, "text": {"field": "t"}}}
 ]
}
]
}
